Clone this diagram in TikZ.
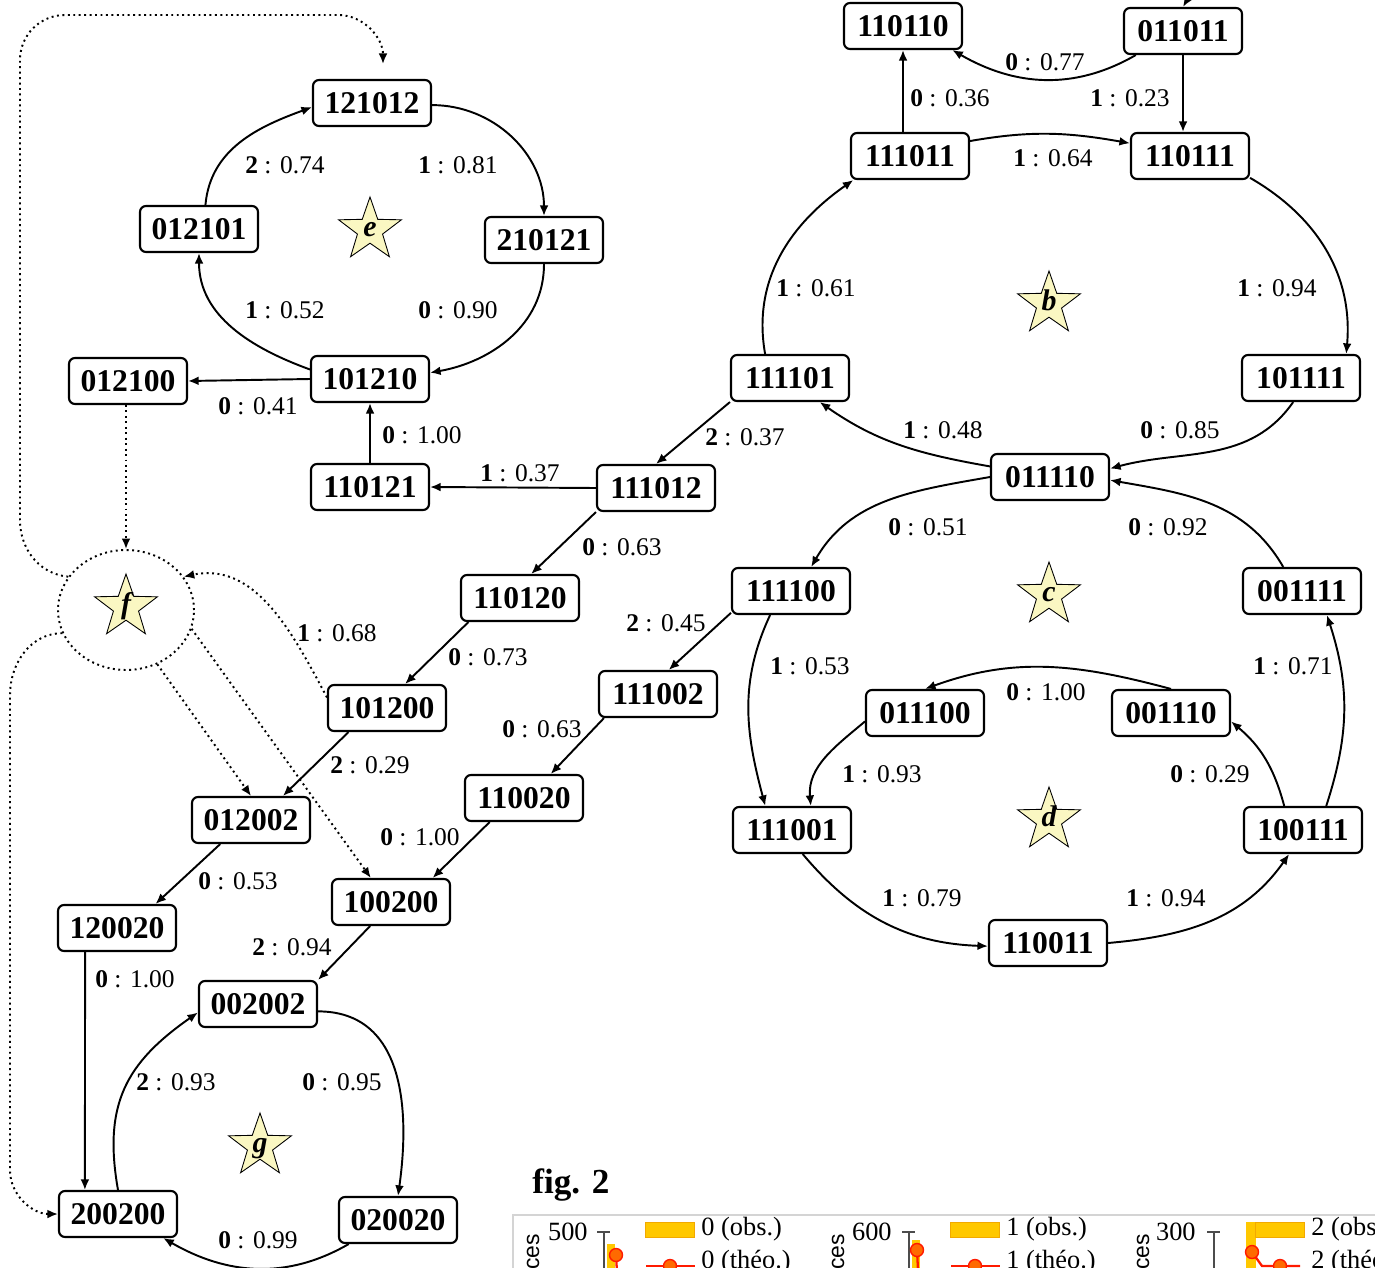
\documentclass[tikz,border=0pt]{standalone}
\usepackage{fontspec}
\setmainfont{Liberation Serif}
\setsansfont{Liberation Sans}
\usetikzlibrary{arrows.meta,shapes.geometric}
\definecolor{starfill}{HTML}{FAF7C2}
\definecolor{obsfill}{HTML}{FFC800}
\definecolor{obsdraw}{HTML}{F2A900}
\definecolor{theoline}{HTML}{FF1A00}
\definecolor{theofill}{HTML}{FF6A00}
\definecolor{framegray}{HTML}{D4D4D4}
\newcommand{\trp}[2]{\textbf{#1} : #2}
\newcommand{\starletter}[1]{\smash{\raisebox{-0.5ex}{#1}}}
\tikzset{
  stbox/.style={draw,rounded corners=3.4pt,line width=1.2pt,minimum width=2.36cm,
    minimum height=0.92cm,inner sep=0pt,font=\fontsize{18}{20}\selectfont\bfseries},
  trans/.style={-{Latex[length=6pt,width=5pt]},line width=1.1pt},
  dotlink/.style={trans,dotted},
  problabel/.style={inner sep=1pt,font=\fontsize{14.5}{16}\selectfont},
  cyclestar/.style={star,star points=5,star point ratio=2.5,minimum size=1.32cm,
    inner sep=0pt,fill=starfill,draw=black,line width=0.5pt,
    font=\fontsize{17}{19}\selectfont\bfseries\itshape},
  figtitle/.style={inner sep=0pt,font=\fontsize{20}{22}\selectfont\bfseries},
  chartnum/.style={inner sep=0pt,font=\fontsize{15}{17}\selectfont},
  chartaxis/.style={inner sep=0pt,font=\fontsize{13}{15}\selectfont\sffamily},
  axisgray/.style={draw=black!70,line width=0.6pt},
  obskey/.style={fill=obsfill,draw=obsdraw,line width=0.4pt,minimum width=0.98cm,
    minimum height=0.3cm,inner sep=0pt},
  theocurve/.style={theoline,line width=1.3pt},
  theomark/.style={circle,fill=theofill,draw=theoline,line width=0.8pt,
    minimum size=0.26cm,inner sep=0pt}
}

\begin{document}
\begin{tikzpicture}[x=0.02cm,y=0.02cm]
  \useasboundingbox (0,0) rectangle (1375,-1267);
  \clip (0,0) rectangle (1375,-1267);
  % states
  \node[stbox] (s110110) at (903,-26) {110110};
  \node[stbox] (s011011) at (1183,-31) {011011};
  \node[stbox] (s111011) at (910,-156) {111011};
  \node[stbox] (s110111) at (1190,-156) {110111};
  \node[stbox] (s121012) at (372,-103) {121012};
  \node[stbox] (s012101) at (199,-229) {012101};
  \node[stbox] (s210121) at (544,-240) {210121};
  \node[stbox] (s101210) at (370,-379) {101210};
  \node[stbox] (s012100) at (128,-381) {012100};
  \node[stbox] (s111101) at (790,-378) {111101};
  \node[stbox] (s101111) at (1301,-378) {101111};
  \node[stbox] (s110121) at (370,-487) {110121};
  \node[stbox] (s111012) at (656,-488) {111012};
  \node[stbox] (s011110) at (1050,-477) {011110};
  \node[stbox] (s110120) at (520,-598) {110120};
  \node[stbox] (s111100) at (791,-591) {111100};
  \node[stbox] (s001111) at (1302,-591) {001111};
  \node[stbox] (s101200) at (387,-708) {101200};
  \node[stbox] (s111002) at (658,-694) {111002};
  \node[stbox] (s011100) at (925,-713) {011100};
  \node[stbox] (s001110) at (1171,-713) {001110};
  \node[stbox] (s012002) at (251,-820) {012002};
  \node[stbox] (s110020) at (524,-798) {110020};
  \node[stbox] (s111001) at (792,-830) {111001};
  \node[stbox] (s100111) at (1303,-830) {100111};
  \node[stbox] (s120020) at (117,-928) {120020};
  \node[stbox] (s100200) at (391,-902) {100200};
  \node[stbox] (s110011) at (1048,-943) {110011};
  \node[stbox] (s002002) at (258,-1004) {002002};
  \node[stbox] (s200200) at (118,-1214) {200200};
  \node[stbox] (s020020) at (398,-1220) {020020};
  % cycle stars
  \node[cyclestar] (stare) at (370,-230) {\starletter{e}};
  \node[cyclestar] (starb) at (1049,-304) {\starletter{b}};
  \node[cyclestar] (starc) at (1049,-595) {\starletter{c}};
  \node[cyclestar] (stard) at (1049,-820) {\starletter{d}};
  \node[cyclestar] (starg) at (260,-1146) {\starletter{g}};
  \node[cyclestar] (starf) at (126,-607) {\starletter{f}};
  \node[draw,dotted,ellipse,line width=1.1pt,minimum width=2.72cm,
    minimum height=2.4cm] (fring) at (126,-610) {};
  \coordinate (offtop) at (1235,12);
  \coordinate (loopend) at (383,-64);

  % b cycle and top
  \draw[trans] (s011011.-153) to[out=-150,in=-30] (s110110.-26);
  \draw[trans] (s111011.north -| s110110.south) -- (s110110.south);
  \draw[trans] (s011011.south) -- (s011011.south |- s110111.north);
  \draw[trans] (offtop) to[out=200,in=60] (s011011.north);
  \draw[trans] (s111011.14) to[out=10,in=170] (s110111.168);
  \draw[trans] (s110111.-20) to[out=-30,in=85] (s101111.28);
  \draw[trans] (s101111.-108) to[out=-125,in=15] (s011110.8);
  \draw[trans] (s011110.170) to[out=170,in=-35] (s111101.-39);
  \draw[trans] (s111101.136) to[out=100,in=-145] (s111011.-157);
  \draw[trans] (s111101.south west) -- (s111012.north);
  \draw[trans] (s111012.west) -- (s110121.east);
  \draw[trans] (s110121.north) -- (s101210.south);
  \draw[trans] (s101210.west) -- (s012100.east);
  % e cycle
  \draw[trans] (s101210.171) to[out=160,in=-90] (s012101.south);
  \draw[trans] (s012101.75) to[out=85,in=200] (s121012.184);
  \draw[trans] (s121012.-2) to[out=0,in=90] (s210121.north);
  \draw[trans] (s210121.south) to[out=-90,in=10] (s101210.6);
  % c and d cycles
  \draw[trans] (s011110.west) to[out=190,in=60] (s111100.50);
  \draw[trans] (s001111.128) to[out=120,in=-10] (s011110.-3);
  \draw[trans] (s111100.-131) to[out=-115,in=105] (s111001.138);
  \draw[trans] (s011100.188) to[out=-140,in=95] (s111001.52);
  \draw[trans] (s001110.north) to[out=165,in=20] (s011100.north);
  \draw[trans] (s100111.128) to[out=105,in=-40] (s001110.-8);
  \draw[trans] (s100111.46) to[out=72,in=-72] (s001111.-44);
  \draw[trans] (s111001.-66) to[out=-50,in=178] (s110011.183);
  \draw[trans] (s110011.east) to[out=5,in=-125] (s100111.-120);
  % chains down to g
  \draw[trans] (s111012.south west) -- (s110120.65);
  \draw[trans] (s110120.-155) -- (s101200.53);
  \draw[trans] (s101200.-148) -- (s012002.37);
  \draw[trans] (s012002.-142) -- (s120020.32);
  \draw[trans] (s120020.-143) -- (s200200.144);
  \draw[trans] (s111100.-160) -- (s111002.66);
  \draw[trans] (s111002.-156) -- (s110020.42);
  \draw[trans] (s110020.-145) -- (s100200.30);
  \draw[trans] (s100200.-131) -- (s002002.north east);
  % g cycle
  \draw[trans] (s002002.-7) to[out=0,in=82,looseness=1.1] (s020020.north);
  \draw[trans] (s020020.-154) to[out=-150,in=-30] (s200200.-28);
  \draw[trans] (s200200.north) to[out=100,in=-145,looseness=1.15] (s002002.188);
  % f links
  \draw[dotlink] (s012100.south -| fring.north) -- (fring.north);
  \draw[dotlink] (fring.150) to[out=175,in=-90] (20,-520) -- (20,-60)
    to[out=90,in=180] (65,-15) -- (338,-15) to[out=0,in=90] (loopend);
  \draw[dotlink] (fring.200) to[out=180,in=90] (10,-695) -- (10,-1170)
    to[out=-90,in=180] (s200200.west);
  \draw[dotlink] (s101200.170) to[out=118,in=12] (fring.30);
  \draw[dotlink] (fring.-60) -- (s012002.north);
  \draw[dotlink] (fring.-16) -- (s100200.130);

  % probabilities
  \node[problabel] (lab01) at (1045,-62) {\trp{0}{0.77}};
  \node[problabel] (lab02) at (950,-98) {\trp{0}{0.36}};
  \node[problabel] (lab03) at (1130,-98) {\trp{1}{0.23}};
  \node[problabel] (lab04) at (1053,-158) {\trp{1}{0.64}};
  \node[problabel] (lab05) at (816,-288) {\trp{1}{0.61}};
  \node[problabel] (lab06) at (1277,-288) {\trp{1}{0.94}};
  \node[problabel] (lab07) at (943,-430) {\trp{1}{0.48}};
  \node[problabel] (lab08) at (1180,-430) {\trp{0}{0.85}};
  \node[problabel] (lab09) at (285,-165) {\trp{2}{0.74}};
  \node[problabel] (lab10) at (458,-165) {\trp{1}{0.81}};
  \node[problabel] (lab11) at (285,-310) {\trp{1}{0.52}};
  \node[problabel] (lab12) at (458,-310) {\trp{0}{0.90}};
  \node[problabel] (lab13) at (258,-406) {\trp{0}{0.41}};
  \node[problabel] (lab14) at (422,-435) {\trp{0}{1.00}};
  \node[problabel] (lab15) at (745,-437) {\trp{2}{0.37}};
  \node[problabel] (lab16) at (520,-473) {\trp{1}{0.37}};
  \node[problabel] (lab17) at (622,-547) {\trp{0}{0.63}};
  \node[problabel] (lab18) at (928,-527) {\trp{0}{0.51}};
  \node[problabel] (lab19) at (1168,-527) {\trp{0}{0.92}};
  \node[problabel] (lab20) at (337,-633) {\trp{1}{0.68}};
  \node[problabel] (lab21) at (488,-657) {\trp{0}{0.73}};
  \node[problabel] (lab22) at (666,-623) {\trp{2}{0.45}};
  \node[problabel] (lab23) at (810,-666) {\trp{1}{0.53}};
  \node[problabel] (lab24) at (1046,-692) {\trp{0}{1.00}};
  \node[problabel] (lab25) at (1293,-666) {\trp{1}{0.71}};
  \node[problabel] (lab26) at (542,-729) {\trp{0}{0.63}};
  \node[problabel] (lab27) at (370,-765) {\trp{2}{0.29}};
  \node[problabel] (lab28) at (882,-774) {\trp{1}{0.93}};
  \node[problabel] (lab29) at (1210,-774) {\trp{0}{0.29}};
  \node[problabel] (lab30) at (420,-837) {\trp{0}{1.00}};
  \node[problabel] (lab31) at (238,-881) {\trp{0}{0.53}};
  \node[problabel] (lab32) at (922,-898) {\trp{1}{0.79}};
  \node[problabel] (lab33) at (1166,-898) {\trp{1}{0.94}};
  \node[problabel] (lab34) at (292,-947) {\trp{2}{0.94}};
  \node[problabel] (lab35) at (135,-979) {\trp{0}{1.00}};
  \node[problabel] (lab36) at (176,-1082) {\trp{2}{0.93}};
  \node[problabel] (lab37) at (342,-1082) {\trp{0}{0.95}};
  \node[problabel] (lab38) at (258,-1240) {\trp{0}{0.99}};

  % fig. 2 (cut by the frame)
  \node[figtitle] (figtwo) at (571,-1185) {fig. 2};
  \draw[framegray,line width=0.8pt] (513,-1290) |- (1400,-1215);
  \node[chartaxis,rotate=90,anchor=east] (ynamea) at (533,-1234) {occurrences};
  \node[chartnum,anchor=east] (ymaxa) at (588,-1232) {500};
  \draw[axisgray] (597,-1232) -- (610,-1232) (604,-1232) -- (604,-1290);
  \fill[obsfill] (607,-1244) rectangle (615,-1290);
  \draw[theocurve] (616,-1255) -- (618,-1290);
  \node[theomark] (marka) at (616,-1255) {};
  \node[obskey] (keyobsa) at (670,-1230) {};
  \node[chartnum,anchor=west] (txtobsa) at (701,-1229) {0 (obs.)};
  \draw[theocurve] (646,-1266) -- (695,-1266);
  \node[theomark] (keytheoa) at (670,-1266) {};
  \node[chartnum,anchor=west] (txttheoa) at (701,-1262) {0 (théo.)};
  \node[chartaxis,rotate=90,anchor=east] (ynameb) at (838,-1234) {occurrences};
  \node[chartnum,anchor=east] (ymaxb) at (892,-1232) {600};
  \draw[axisgray] (902,-1232) -- (915,-1232) (909,-1232) -- (909,-1290);
  \fill[obsfill] (912,-1240) rectangle (920,-1290);
  \draw[theocurve] (917,-1250) -- (919,-1290);
  \node[theomark] (markb) at (917,-1250) {};
  \node[obskey] (keyobsb) at (975,-1230) {};
  \node[chartnum,anchor=west] (txtobsb) at (1006,-1229) {1 (obs.)};
  \draw[theocurve] (951,-1266) -- (1000,-1266);
  \node[theomark] (keytheob) at (975,-1266) {};
  \node[chartnum,anchor=west] (txttheob) at (1006,-1262) {1 (théo.)};
  \node[chartaxis,rotate=90,anchor=east] (ynamec) at (1143,-1234) {occurrences};
  \node[chartnum,anchor=east] (ymaxc) at (1196,-1232) {300};
  \draw[axisgray] (1207,-1232) -- (1220,-1232) (1214,-1232) -- (1214,-1290);
  \fill[obsfill] (1246,-1222) rectangle (1256,-1290);
  \draw[theocurve] (1252,-1252) -- (1262,-1266) -- (1300,-1266);
  \node[theomark] (markc) at (1252,-1252) {};
  \node[obskey] (keyobsc) at (1280,-1230) {};
  \node[chartnum,anchor=west] (txtobsc) at (1311,-1229) {2 (obs.)};
  \node[theomark] (keytheoc) at (1280,-1266) {};
  \node[chartnum,anchor=west] (txttheoc) at (1311,-1262) {2 (théo.)};
\end{tikzpicture}
\end{document}
